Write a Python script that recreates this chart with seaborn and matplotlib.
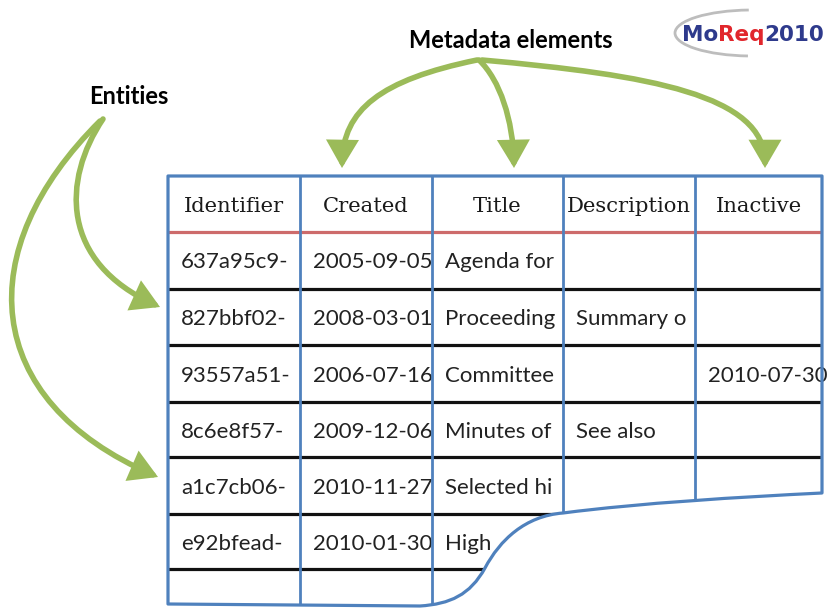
import numpy as np
import pandas as pd
import matplotlib
matplotlib.use("Agg")
import matplotlib.pyplot as plt
import seaborn as sns
from matplotlib.path import Path
from matplotlib.patches import PathPatch, FancyArrowPatch, Rectangle, Arc, ArrowStyle

# ---------------- data ----------------
headers = ["Identifier", "Created", "Title", "Description", "Inactive"]
identifiers = ["637a95c9-", "827bbf02-", "93557a51-", "8c6e8f57-", "a1c7cb06-", "e92bfead-", ""]
created = ["2005-09-05", "2008-03-01", "2006-07-16", "2009-12-06", "2010-11-27", "2010-01-30", ""]
titles = ["Agenda for", "Proceeding", "Committee", "Minutes of", "Selected hi", "High", ""]
descriptions = ["", "Summary o", "", "See also", "", "", ""]
inactive = ["", "", "2010-07-30", "", "", "", ""]
label_entities = "Entities"
label_metadata = "Metadata elements"
logo_parts = ["Mo", "Req", "2010"]

table = pd.DataFrame({h: col for h, col in zip(headers, [identifiers, created, titles, descriptions, inactive])})

# ---------------- layout ----------------
W, H = 827, 615
col_edges = [168, 300, 432, 563, 695, 822]
row_edges = [176, 232, 289, 345, 402, 457, 514, 569, 640]

GREEN = "#9bbb59"
BLUE = "#4f81bd"
RED = "#cd6b6b"

sns.set_theme(style="white")
plt.rcParams["font.family"] = ["Lato", "DejaVu Sans"]

fig = plt.figure(figsize=(W / 100, H / 100), dpi=100)
ax = fig.add_axes([0, 0, 1, 1])
ax.set_xlim(0, W)
ax.set_ylim(H, 0)
ax.axis("off")

# table outline with torn (wavy) bottom
verts = [(168, 176), (822, 176), (822, 493),
         (740, 497), (640, 503), (563, 513),
         (525, 516), (500, 540), (485, 568),
         (470, 595), (450, 604), (420, 606),
         (168, 604), (168, 176)]
codes = [Path.MOVETO, Path.LINETO, Path.LINETO,
         Path.CURVE4, Path.CURVE4, Path.CURVE4,
         Path.CURVE4, Path.CURVE4, Path.CURVE4,
         Path.CURVE4, Path.CURVE4, Path.CURVE4,
         Path.LINETO, Path.CLOSEPOLY]
outline = Path(verts, codes)
clip_patch = PathPatch(outline, transform=ax.transData, facecolor="white", edgecolor="none", zorder=1)
ax.add_patch(clip_patch)

# row separators
for i, y in enumerate(row_edges[1:-1]):
    color = RED if i == 0 else "#111111"
    ln = ax.plot([col_edges[0], col_edges[-1]], [y, y], color=color, lw=2.3, zorder=2,
                 solid_capstyle="butt")[0]
    ln.set_clip_path(clip_patch)

# column separators
for x in col_edges[1:-1]:
    ln = ax.plot([x, x], [row_edges[0], H], color=BLUE, lw=2.0, zorder=3)[0]
    ln.set_clip_path(clip_patch)

ax.add_patch(PathPatch(outline, transform=ax.transData, facecolor="none", edgecolor=BLUE,
                       lw=2.3, zorder=4, joinstyle="round"))

# header text
for j, h in enumerate(table.columns):
    xc = (col_edges[j] + col_edges[j + 1]) / 2
    yc = (row_edges[0] + row_edges[1]) / 2 + 3
    ax.text(xc, yc, h, ha="center", va="center", fontsize=15.2, family="DejaVu Serif",
            color="#1a1a1a", zorder=5)

# body text
for j, h in enumerate(table.columns):
    for i, val in enumerate(table[h]):
        if not val:
            continue
        x0 = col_edges[j]
        y0, y1 = row_edges[i + 1], row_edges[i + 2]
        t = ax.text(x0 + 13, (y0 + y1) / 2 + 2, val, ha="left", va="center", fontsize=16,
                    color="#222222", zorder=2.5)
        rect = Rectangle((x0, y0), col_edges[j + 1] - x0 + 3, y1 - y0, transform=ax.transData)
        t.set_clip_path(rect)

# labels
ax.text(129, 97, label_entities, ha="center", va="center", fontsize=17, fontweight="bold",
        color="black")
ax.text(511, 40, label_metadata, ha="center", va="center", fontsize=17, fontweight="bold",
        color="black")

# arrows
def curved_arrow(p0, c1, c2, p3):
    path = Path([p0, c1, c2, p3], [Path.MOVETO, Path.CURVE4, Path.CURVE4, Path.CURVE4])
    style = ArrowStyle("-|>", head_length=0.72, head_width=0.42)
    arr = FancyArrowPatch(path=path, arrowstyle=style, mutation_scale=20, color=GREEN,
                          lw=4, transform=ax.transData, zorder=6, joinstyle="miter")
    ax.add_patch(arr)

curved_arrow((477, 60), (380, 80), (343, 110), (342, 168))
curved_arrow((479, 60), (500, 80), (513, 120), (514, 168))
curved_arrow((482, 60), (650, 75), (765, 95), (765, 168))
curved_arrow((103, 119), (62, 180), (60, 262), (160, 307))
curved_arrow((100, 121), (-30, 250), (-20, 400), (158, 477))

# logo
ax.add_patch(Arc((752, 33), 154, 46, theta1=100, theta2=262, color="#bdbdbd", lw=2, zorder=1))
logo_colors = ["#2e3a8c", "#e1262c", "#2e3a8c"]
prev = ax.text(682, 33, logo_parts[0], ha="left", va="center_baseline", fontsize=15.5,
               fontweight="bold", family="DejaVu Sans", color=logo_colors[0], zorder=5)
for part, c in zip(logo_parts[1:], logo_colors[1:]):
    prev = ax.annotate(part, xy=(1, 0), xycoords=prev, ha="left", va="bottom", fontsize=15.5,
                       fontweight="bold", family="DejaVu Sans", color=c, zorder=5)

fig.savefig("out.png", dpi=100)
